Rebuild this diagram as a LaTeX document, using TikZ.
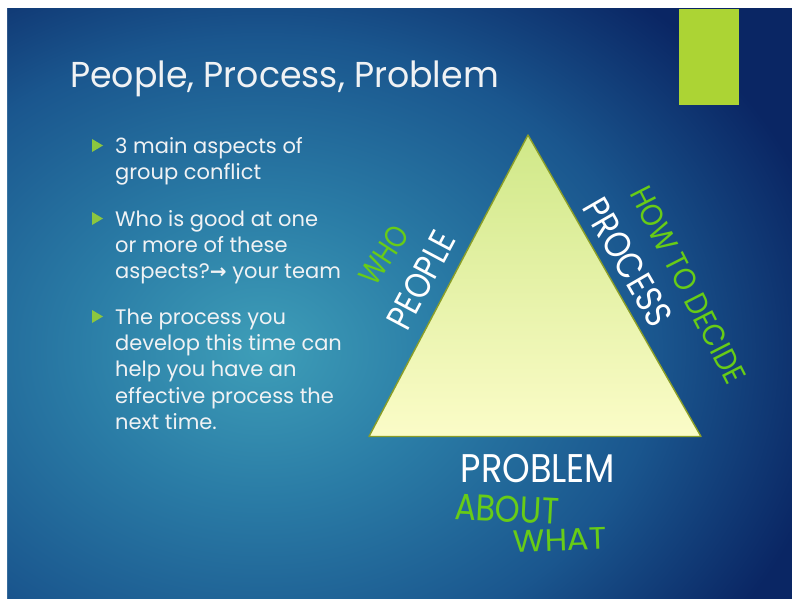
\documentclass[tikz,border=0pt]{standalone}
\usepackage{fontspec}
\setmainfont{Poppins}
\newfontfamily\arrowfont{DejaVu Sans}
\newfontfamily\handfont{Poppins}
\newcommand\fsz[1]{\fontsize{#1}{#1}\selectfont}

% palette
\definecolor{navy}{RGB}{10,38,100}
\definecolor{glowmid}{RGB}{26,86,142}
\definecolor{glowmidB}{RGB}{42,124,166}
\definecolor{glowin}{RGB}{62,158,184}
\definecolor{accent}{RGB}{172,212,52}
\definecolor{bulletgreen}{RGB}{140,198,63}
\definecolor{handgreen}{RGB}{104,204,22}
\definecolor{tritop}{RGB}{208,232,136}
\definecolor{tribot}{RGB}{251,252,200}
\definecolor{triedge}{RGB}{138,158,40}
\definecolor{bodytext}{RGB}{240,242,244}

% glow: the central 50bp square is stretched onto the shaded path
\pgfdeclareradialshading{slideglow}{\pgfpointorigin}{%
  color(0bp)=(glowin); color(8bp)=(glowmidB); color(17bp)=(glowmid);
  color(25bp)=(navy); color(50bp)=(navy)}

\tikzset{
  line/.style={anchor=base west, inner sep=0, text=bodytext, font=\fsz{21}},
  hand/.style={inner sep=0, font=\handfont},
  marker/.style={fill=bulletgreen},
}

\begin{document}
\begin{tikzpicture}[x=1pt,y=-1pt]
\useasboundingbox (0,0) rectangle (792,599);

% slide background
\fill[navy] (7,8) rectangle (792,599);
\begin{scope}
  \clip (7,8) rectangle (792,599);
  \shade[shading=slideglow] (262,350) ellipse [x radius=580, y radius=460];
\end{scope}
% white page margin on the top and left
\fill[white, even odd rule] (0,0) rectangle (792,599) (7,8) rectangle (792,599);

% accent bar
\fill[accent] (679,9) rectangle (739,105);

% title
\node[anchor=base west, inner sep=0, text=bodytext, font=\fsz{36}, xscale=.965] (title) at (70,87.7) {People, Process, Problem};

% bullet markers
\foreach \y in {145.5, 218.5, 316.5}
  \fill[marker] (92,\y-6.5) -- (103,\y) -- (92,\y+6.5) -- cycle;

% bullet text
\node[line] (b1a) at (115,153.3) {3 main aspects of};
\node[line] (b1b) at (115,179.6) {group conflict};
\node[line] (b2a) at (115,226) {Who is good at one};
\node[line] (b2b) at (115,252.3) {or more of these};
\node[line] (b2c) at (115,278.6) {aspects?{\arrowfont\bfseries\fsz{20}→} your team};
\node[line] (b3a) at (115,324) {The process you};
\node[line] (b3b) at (115,350.3) {develop this time can};
\node[line] (b3c) at (115,376.6) {help you have an};
\node[line] (b3d) at (115,403) {effective process the};
\node[line] (b3e) at (115,429) {next time.};

% triangle
\coordinate (apex) at (528,135);
\coordinate (left) at (369,436.5);
\coordinate (right) at (701,436.5);
\shadedraw[draw=triedge, line width=1.4pt, line join=round,
  top color=tritop, bottom color=tribot] (apex) -- (left) -- (right) -- cycle;

% handwritten labels
\node[hand, text=handgreen, font=\handfont\fsz{31}, rotate=57, xscale=.84] (who) at (384,255) {WHO};
\node[hand, text=white, font=\handfont\fsz{36}, rotate=62, xscale=.86] (people) at (421,280) {PEOPLE};
\node[hand, text=white, font=\handfont\fsz{37}, rotate=-60, xscale=.86] (process) at (628,262) {PROCESS};
\node[hand, text=handgreen, font=\handfont\fsz{31}, rotate=-63, xscale=.9] (how) at (688,285) {HOW TO DECIDE};
\node[hand, text=white, font=\handfont\fsz{40}, xscale=.88] (problem) at (538,469) {PROBLEM};
\node[hand, text=handgreen, font=\handfont\fsz{37}, rotate=-3, xscale=.86] (about) at (507,509) {ABOUT};
\node[hand, text=handgreen, font=\handfont\fsz{31}, rotate=2, xscale=1.05] (what) at (560,540) {WHAT};
\end{tikzpicture}
\end{document}
